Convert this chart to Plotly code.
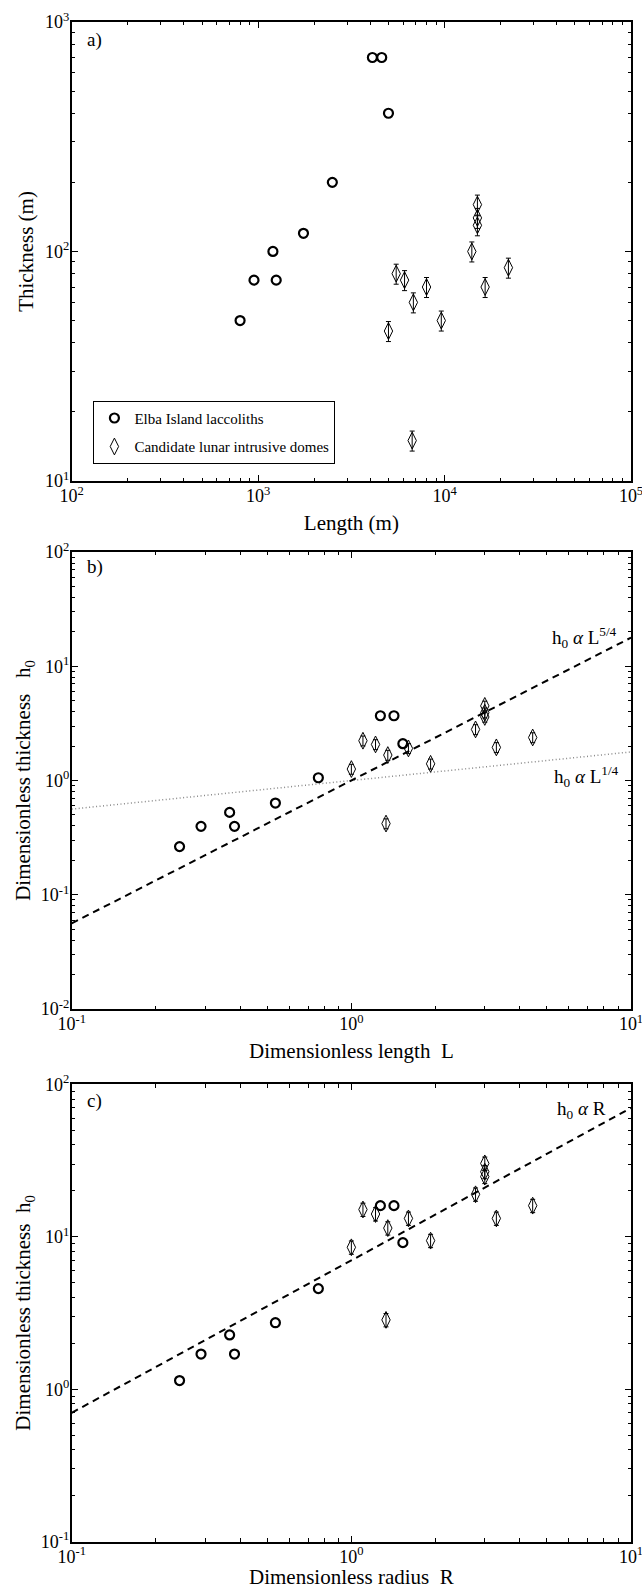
import plotly.graph_objects as go

# ---------------- data ----------------
# a) Elba Island laccoliths: length (m), thickness (m)
elba_length = [800, 950, 1250, 1200, 1750, 2500, 4100, 4600, 5000]
elba_thick = [50, 75, 75, 100, 120, 200, 700, 700, 400]

# a) candidate lunar intrusive domes: length (m), thickness (m)
lunar_length = [15000, 15000, 15000, 14000, 22000, 5500, 6100, 8000, 16500, 6800, 9600, 5000, 6700]
lunar_thick = [160, 140, 130, 100, 85, 80, 75, 70, 70, 60, 50, 45, 15]
lunar_err_pct = 10

# b) dimensionless length L and thickness h0
elba_L = [0.243, 0.29, 0.382, 0.367, 0.535, 0.762, 1.27, 1.42, 1.528]
elba_h0_L = [0.264, 0.397, 0.397, 0.526, 0.635, 1.057, 3.69, 3.69, 2.10]
lunar_L = [3.0, 3.0, 3.0, 2.78, 4.45, 1.10, 1.22, 1.60, 3.30, 1.35, 1.92, 1.0, 1.33]
lunar_h0_L = [4.5, 3.92, 3.6, 2.8, 2.38, 2.23, 2.07, 1.91, 1.95, 1.67, 1.40, 1.26, 0.42]

# b) scaling lines
scale_L = [0.1, 10]
scale_h54 = [0.0562, 17.8]
scale_h14 = [0.562, 1.78]

# c) dimensionless radius R and thickness h0
elba_R = elba_L
elba_h0_R = [1.14, 1.70, 1.70, 2.27, 2.73, 4.57, 16.0, 16.0, 9.15]
lunar_R = lunar_L
lunar_h0_R = [30.3, 26.7, 24.8, 19.0, 16.0, 15.1, 14.1, 13.2, 13.2, 11.4, 9.43, 8.53, 2.85]

# c) scaling line
scale_R = [0.1, 10]
scale_hR = [0.70, 70.0]


# decade tick labels and in-between minor tick positions
def pow_labels(lo, hi):
    vals = [10.0 ** k for k in range(lo, hi + 1)]
    text = ["10<sup>%d</sup>" % k for k in range(lo, hi + 1)]
    return vals, text


def minor_vals(lo, hi):
    return [m * 10.0 ** k for k in range(lo, hi) for m in range(2, 10)]


FONT = "Liberation Serif"
circle = dict(symbol="circle-open", size=9, color="black", line=dict(width=2.2, color="black"))
diamond = dict(symbol="diamond-tall-open", size=12, color="black", line=dict(width=1, color="black"))
err = dict(type="percent", value=lunar_err_pct, color="black", thickness=1, width=2.5)

fig = go.Figure()

# panel a
fig.add_trace(go.Scatter(x=elba_length, y=elba_thick, mode="markers", marker=circle,
                         name="Elba Island laccoliths", legendgroup="g1",
                         xaxis="x", yaxis="y"))
fig.add_trace(go.Scatter(x=lunar_length, y=lunar_thick, mode="markers", marker=diamond,
                         error_y=err, name="Candidate lunar intrusive domes",
                         legendgroup="g2", xaxis="x", yaxis="y"))

# panel b
fig.add_trace(go.Scatter(x=scale_L, y=scale_h14, mode="lines", showlegend=False,
                         line=dict(color="#8a8a8a", width=1.5, dash="1px,2.5px"),
                         xaxis="x2", yaxis="y2"))
fig.add_trace(go.Scatter(x=scale_L, y=scale_h54, mode="lines", showlegend=False,
                         line=dict(color="black", width=2, dash="7px,5px"),
                         xaxis="x2", yaxis="y2"))
fig.add_trace(go.Scatter(x=elba_L, y=elba_h0_L, mode="markers", marker=circle,
                         showlegend=False, xaxis="x2", yaxis="y2"))
fig.add_trace(go.Scatter(x=lunar_L, y=lunar_h0_L, mode="markers", marker=diamond,
                         error_y=err, showlegend=False, xaxis="x2", yaxis="y2"))

# panel c
fig.add_trace(go.Scatter(x=scale_R, y=scale_hR, mode="lines", showlegend=False,
                         line=dict(color="black", width=2, dash="7px,5px"),
                         xaxis="x3", yaxis="y3"))
fig.add_trace(go.Scatter(x=elba_R, y=elba_h0_R, mode="markers", marker=circle,
                         showlegend=False, xaxis="x3", yaxis="y3"))
fig.add_trace(go.Scatter(x=lunar_R, y=lunar_h0_R, mode="markers", marker=diamond,
                         error_y=err, showlegend=False, xaxis="x3", yaxis="y3"))

XDOM = [0.1117, 0.9829]


def axis(lo, hi, dom, anchor, title, standoff, is_y):
    tv, tt = pow_labels(lo, hi)
    d = dict(type="log", range=[lo, hi], tickmode="array", tickvals=tv, ticktext=tt,
             ticks="inside", ticklen=6, tickwidth=1, tickcolor="black",
             minor=dict(tickmode="array", tickvals=minor_vals(lo, hi), ticks="inside",
                        ticklen=3.5, tickwidth=1, tickcolor="black", showgrid=False),
             showline=True, linecolor="black", linewidth=1.6, mirror="ticks",
             showgrid=False, zeroline=False,
             tickfont=dict(family=FONT, size=18, color="black"),
             ticklabeloverflow="allow",
             ticklabelstandoff=-3 if is_y else -2,
             automargin=False, domain=dom, anchor=anchor,
             title=dict(text=title, font=dict(family=FONT, size=21, color="black"),
                        standoff=standoff))
    return d


layout = dict(
    width=642, height=1589,
    margin=dict(l=0, r=0, t=0, b=0),
    paper_bgcolor="white", plot_bgcolor="white",
    font=dict(family=FONT, color="black"),
    xaxis=axis(2, 5, XDOM, "y", "Length (m)", 10, False),
    yaxis=axis(1, 3, [0.6973, 0.9862], "x", "Thickness (m)", 6, True),
    xaxis2=axis(-1, 1, XDOM, "y2", "Dimensionless length\u00a0\u00a0L", 10, False),
    yaxis2=axis(-2, 2, [0.3650, 0.6526], "x2",
                "Dimensionless thickness\u00a0\u00a0\u00a0h<sub>0</sub>", 4, True),
    xaxis3=axis(-1, 1, XDOM, "y3", "Dimensionless radius\u00a0\u00a0R", 12, False),
    yaxis3=axis(-1, 2, [0.0298, 0.3176], "x3",
                "Dimensionless thickness\u00a0\u00a0h<sub>0</sub>", 4, True),
    showlegend=True,
    legend=dict(x=0.1455, y=0.7478, xanchor="left", yanchor="top",
                bordercolor="black", borderwidth=1, bgcolor="white",
                font=dict(family=FONT, size=15, color="black"),
                traceorder="grouped", tracegroupgap=6, itemwidth=30),
)
fig.update_layout(**layout)

# panel labels and scaling-law labels
notes = [
    ("x domain", "y domain", 0.024, 0.961, "a)", "left"),
    ("x2 domain", "y2 domain", 0.024, 0.967, "b)", "left"),
    ("x3 domain", "y3 domain", 0.024, 0.9635, "c)", "left"),
    ("x2 domain", "y2 domain", 0.916, 0.814, "h<sub>0</sub> <i>α</i> L<sup>5/4</sup>", "center"),
    ("x2 domain", "y2 domain", 0.921, 0.508, "h<sub>0</sub> <i>α</i> L<sup>1/4</sup>", "center"),
    ("x3 domain", "y3 domain", 0.912, 0.944, "h<sub>0</sub> <i>α</i> R", "center"),
]
for xr, yr, x, y, txt, anc in notes:
    fig.add_annotation(xref=xr, yref=yr, x=x, y=y, text=txt, showarrow=False,
                       xanchor=anc, yanchor="middle",
                       font=dict(family=FONT, size=19, color="black"))

fig.write_html("out.html")
